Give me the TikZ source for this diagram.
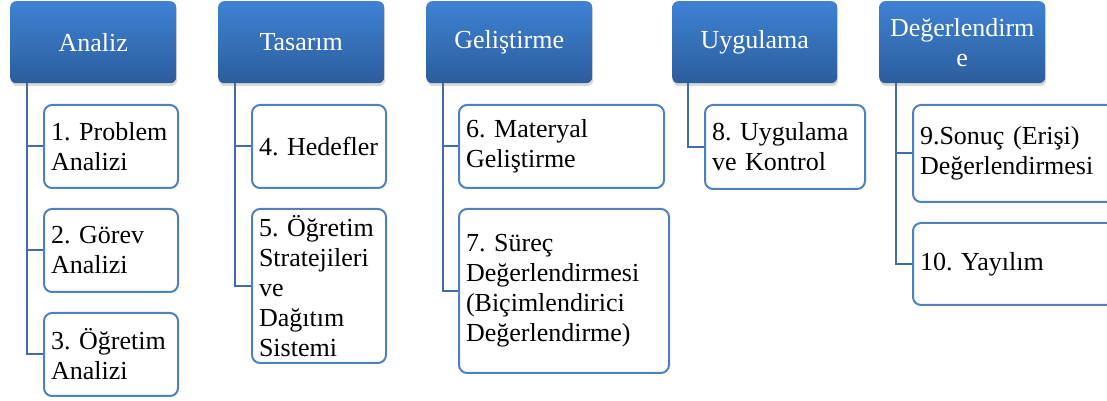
\documentclass[tikz,border=0pt]{standalone}
\usepackage{fontspec}
\setmainfont{Liberation Serif}
\usetikzlibrary{shadows}
\definecolor{headtop}{HTML}{3F82D4}
\definecolor{headbot}{HTML}{2C5D9C}
\definecolor{itemline}{HTML}{4F81BD}
\definecolor{linkblue}{HTML}{416CA6}
\frenchspacing
\hyphenpenalty=10000
\exhyphenpenalty=10000

\begin{document}
\begin{tikzpicture}[x=1pt,y=1pt,font=\fontsize{26}{30}\selectfont,
  head/.style={anchor=north west,rounded corners=6pt,top color=headtop,bottom color=headbot,
    text=white,align=center,minimum width=166pt,minimum height=82pt,inner sep=0pt,
    drop shadow={opacity=0.3,shadow xshift=1pt,shadow yshift=-3pt}},
  item/.style={anchor=north west,rounded corners=8pt,draw=itemline,line width=2pt,
    fill=white,align=left,inner xsep=7pt,inner ysep=0pt},
  link/.style={draw=linkblue,line width=2pt}]
  \clip (0,0) rectangle (1107,401);

  % phases
  \node[head] (hA) at (10,400) {Analiz};
  \node[head] (hT) at (218,400) {Tasarım};
  \node[head] (hG) at (426,400) {Geliştirme};
  \node[head,minimum width=165pt] (hU) at (672,400) {Uygulama};
  \node[head] (hD) at (879,400) {Değerlendirm\\e};

  % steps
  \node[item,text width=120pt,minimum height=83pt] (s1) at (43,297) {1. Problem\\Analizi};
  \node[item,text width=120pt,minimum height=83pt] (s2) at (43,193) {2. Görev\\Analizi};
  \node[item,text width=120pt,minimum height=83pt] (s3) at (43,89) {3. Öğretim\\Analizi};
  \node[item,text width=120pt,minimum height=83pt] (s4) at (251,297) {4. Hedefler};
  \node[item,text width=120pt,minimum height=154pt] (s5) at (251,193)
    {5. Öğretim\\Stratejileri\\ve\\Dağıtım\\Sistemi};
  \node[item,text width=191pt,minimum height=83pt] (s6) at (458,297) {6. Materyal\\Geliştirme};
  \node[item,text width=196pt,minimum height=164pt] (s7) at (458,193)
    {7. Süreç\\Değerlendirmesi\\(Biçimlendirici\\Değerlendirme)};
  \node[item,text width=146pt,minimum height=84pt] (s8) at (704,297) {8. Uygulama\\ve Kontrol};
  \node[item,text width=191pt,minimum height=97pt] (s9) at (912,297)
    {9.Sonuç (Erişi)\\Değerlendirmesi};
  \node[item,text width=191pt,minimum height=82pt] (s10) at (912,179) {10. Yayılım};

  % links
  \coordinate (tA) at ([xshift=17pt]hA.south west);
  \coordinate (tT) at ([xshift=17pt]hT.south west);
  \coordinate (tG) at ([xshift=17pt]hG.south west);
  \coordinate (tU) at ([xshift=16pt]hU.south west);
  \coordinate (tD) at ([xshift=17pt]hD.south west);
  \draw[link] (tA) |- (s1.west) (tA) |- (s2.west) (tA) |- (s3.west);
  \draw[link] (tT) |- (s4.west) (tT) |- (s5.west);
  \draw[link] (tG) |- (s6.west) (tG) |- (s7.west);
  \draw[link] (tU) |- (s8.west);
  \draw[link] (tD) |- (s9.west) (tD) |- (s10.west);
\end{tikzpicture}
\end{document}
